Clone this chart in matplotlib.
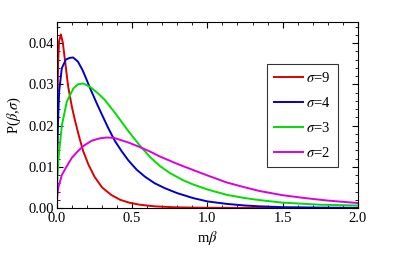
import matplotlib
matplotlib.use("Agg")
import matplotlib.pyplot as plt
from matplotlib.ticker import MultipleLocator

# sigma = 9
beta_s9 = [0, 0.003, 0.008, 0.015, 0.027, 0.04, 0.055, 0.075, 0.10, 0.12, 0.15, 0.175,
           0.21, 0.25, 0.30, 0.36, 0.42, 0.48, 0.55, 0.65, 0.8, 1.0, 1.5, 2.0]
p_s9 = [0, 0.022, 0.035, 0.0405, 0.0421, 0.040, 0.0355, 0.0295, 0.0245, 0.0213, 0.017, 0.0138,
        0.0105, 0.0076, 0.0050, 0.0032, 0.0020, 0.0013, 0.0008, 0.0004, 0.00015, 0.00005, 0, 0]

# sigma = 4
beta_s4 = [0, 0.002, 0.007, 0.015, 0.033, 0.06, 0.085, 0.108, 0.14, 0.17, 0.19, 0.219, 0.266,
           0.30, 0.34, 0.385, 0.43, 0.474, 0.53, 0.585, 0.65, 0.718, 0.8, 0.906, 1.0, 1.128,
           1.25, 1.35, 1.5, 1.75, 2.0]
p_s4 = [0, 0.012, 0.020, 0.0282, 0.0339, 0.0360, 0.0364, 0.0365, 0.0355, 0.0335, 0.0318, 0.0292, 0.0253,
        0.0226, 0.0195, 0.0163, 0.0138, 0.0116, 0.0093, 0.0076, 0.0060, 0.0048, 0.0036, 0.0024, 0.0016, 0.0010,
        0.0006, 0.0004, 0.0002, 0.0001, 0.00004]

# sigma = 3
beta_s3 = [0, 0.002, 0.011, 0.033, 0.066, 0.11, 0.14, 0.175, 0.22, 0.27, 0.319, 0.396, 0.474,
           0.55, 0.618, 0.684, 0.75, 0.84, 0.906, 1.0, 1.128, 1.25, 1.35, 1.5, 1.75, 2.0]
p_s3 = [0, 0.006, 0.012, 0.020, 0.0258, 0.0290, 0.0300, 0.0302, 0.0294, 0.0279, 0.0262, 0.0226, 0.0187,
        0.0152, 0.0124, 0.0102, 0.0085, 0.0067, 0.0057, 0.0045, 0.0032, 0.0024, 0.0019, 0.0013, 0.0008, 0.0006]

# sigma = 2
beta_s2 = [0, 0.002, 0.01, 0.033, 0.064, 0.10, 0.14, 0.175, 0.23, 0.286, 0.33, 0.38, 0.474,
           0.55, 0.618, 0.684, 0.8, 0.906, 1.0, 1.128, 1.25, 1.35, 1.5, 1.65, 1.8, 2.0]
p_s2 = [0, 0.0025, 0.0050, 0.0080, 0.0100, 0.0122, 0.0138, 0.0150, 0.0163, 0.0169, 0.0171, 0.0170, 0.0159,
        0.0148, 0.0137, 0.0125, 0.0107, 0.0092, 0.0079, 0.0062, 0.0050, 0.0041, 0.0031, 0.0024, 0.0018, 0.0012]

labels = [r"$\sigma$=9", r"$\sigma$=4", r"$\sigma$=3", r"$\sigma$=2"]
colors = ["#dd0000", "#0000cc", "#00dd00", "#dd00dd"]

plt.rcParams["font.family"] = ["Liberation Serif", "DejaVu Serif"]
plt.rcParams["mathtext.fontset"] = "stix"

fig = plt.figure(figsize=(4.09, 2.56), dpi=100)
ax = fig.add_axes([0.139, 0.1875, 0.736, 0.7265])

series = [(beta_s9, p_s9), (beta_s4, p_s4), (beta_s3, p_s3), (beta_s2, p_s2)]
for (b, p), lab, c in zip(series, labels, colors):
    ax.plot(b, p, color=c, lw=1.4, label=lab)

ax.set_xlim(0, 2.0)
ax.set_ylim(0, 0.0451)
ax.xaxis.set_major_locator(MultipleLocator(0.5))
ax.xaxis.set_minor_locator(MultipleLocator(0.1))
ax.yaxis.set_major_locator(MultipleLocator(0.01))
ax.yaxis.set_minor_locator(MultipleLocator(0.002))
ax.xaxis.set_major_formatter(matplotlib.ticker.FormatStrFormatter("%.1f"))
ax.yaxis.set_major_formatter(matplotlib.ticker.FormatStrFormatter("%.2f"))
ax.tick_params(which="both", direction="in", top=True, right=True, labelsize=10.5)
ax.tick_params(axis="x", pad=3)
ax.tick_params(axis="y", pad=2)
ax.tick_params(which="major", length=4, width=0.8)
ax.tick_params(which="minor", length=2, width=0.6)
for s in ax.spines.values():
    s.set_linewidth(0.8)

ax.set_xlabel(r"m$\beta$", fontsize=10.5, labelpad=3)
ax.set_ylabel(r"P($\beta$,$\sigma$)", fontsize=10.5, labelpad=4)

leg = ax.legend(loc="upper right", bbox_to_anchor=(0.934, 0.774), fontsize=10.5,
                frameon=True, fancybox=False, edgecolor="black", handlelength=2.0,
                handletextpad=0.2, labelspacing=0.75, borderpad=0.5, borderaxespad=0)
leg.get_frame().set_linewidth(0.8)

fig.savefig("out.png", dpi=100)
